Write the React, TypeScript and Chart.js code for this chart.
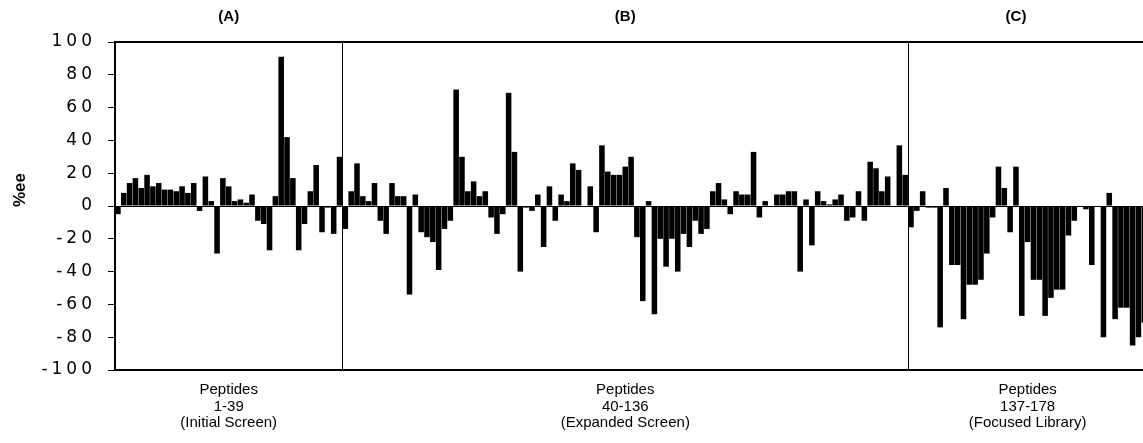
import React, { useEffect, useRef } from 'react';
import { Chart, registerables, LinearScale } from 'chart.js';

Chart.register(...registerables);

class SpacedLinearScale extends LinearScale {
  static id = 'spacedLinear';
  static defaults = LinearScale.defaults;
  drawLabels(chartArea: any) {
    const ctx = this.ctx as any;
    ctx.save();
    ctx.letterSpacing = '4px';
    super.drawLabels(chartArea);
    ctx.restore();
  }
}
Chart.register(SpacedLinearScale);

// %ee per peptide, section A: peptides 1-39 (Initial Screen)
const SECTION_A = [
  -5, 8, 14, 17, 11, 19, 12, 14, 10, 10, 9, 12, 8, 14, -3, 18, 3, -29, 17, 12,
  3, 4, 2, 7, -9, -11, -27, 6, 91, 42, 17, -27, -11, 9, 25, -16, -1, -17, 30,
];
// section B: peptides 40-136 (Expanded Screen)
const SECTION_B = [
  -14, 9, 26, 6, 3, 14, -9, -17, 14, 6, 6, -54, 7, -16, -19, -22, -39, -14, -9, 71,
  30, 9, 15, 6, 9, -7, -17, -5, 69, 33, -40, -1, -3, 7, -25, 12, -9, 7, 3, 26,
  22, 0, 12, -16, 37, 21, 19, 19, 24, 30, -19, -58, 3, -66, -20, -37, -20, -40, -17, -25,
  -9, -17, -14, 9, 14, 4, -5, 9, 7, 7, 33, -7, 3, 0, 7, 7, 9, 9, -40, 4,
  -24, 9, 3, 1, 4, 7, -9, -7, 9, -9, 27, 23, 9, 18, 0, 37, 19,
];
// section C: peptides 137-178 (Focused Library)
const SECTION_C = [
  -13, -3, 9, -1, -1, -74, 11, -36, -36, -69, -48, -48, -45, -29, -7, 24, 11, -16, 24, -67,
  -22, -45, -45, -67, -56, -51, -51, -18, -9, 0, -2, -36, 0, -80, 8, -69, -62, -62, -85, -80,
  -71, -71,
];

const SECTION_LETTERS = ['(A)', '(B)', '(C)'];
const SECTION_LETTER_AT = [19, 87, 154];
const SECTION_CAPTIONS = [
  ['Peptides', '1-39', '(Initial Screen)'],
  ['Peptides', '40-136', '(Expanded Screen)'],
  ['Peptides', '137-178', '(Focused Library)'],
];
const CAPTION_AT = [19, 87, 156];
const Y_MIN = -100;
const Y_MAX = 100;
const Y_STEP = 20;
const Y_TITLE = '%ee';

const SECTIONS = [SECTION_A, SECTION_B, SECTION_C];
const VALUES = SECTIONS.flat();
const LABELS = VALUES.map((_, i) => String(i + 1));

const FONT = '"Liberation Sans", Arial, sans-serif';

const decorPlugin = {
  id: 'decor',
  afterDatasetsDraw(chart: any) {
    const { ctx, chartArea: a, scales } = chart;
    const x = scales.x;
    ctx.save();
    ctx.strokeStyle = '#000';
    ctx.fillStyle = '#000';
    ctx.lineWidth = 1;
    let idx = 0;
    for (let s = 0; s < SECTIONS.length - 1; s++) {
      idx += SECTIONS[s].length;
      const px = (x.getPixelForValue(idx - 1) + x.getPixelForValue(idx)) / 2;
      const rx = Math.round(px) + 0.5;
      ctx.beginPath();
      ctx.moveTo(rx, a.top);
      ctx.lineTo(rx, a.bottom);
      ctx.stroke();
    }
    ctx.lineWidth = 2;
    ctx.beginPath();
    ctx.moveTo(a.left, a.top);
    ctx.lineTo(a.right, a.top);
    ctx.lineTo(a.right, a.bottom);
    ctx.stroke();

    ctx.font = 'bold 15px ' + FONT;
    ctx.textAlign = 'center';
    ctx.textBaseline = 'middle';
    SECTION_LETTERS.forEach((t, i) => {
      ctx.fillText(t, x.getPixelForValue(SECTION_LETTER_AT[i]), 17);
    });

    ctx.translate(20, 190);
    ctx.rotate(-Math.PI / 2);
    ctx.font = 'bold 17px ' + FONT;
    ctx.fillText(Y_TITLE, 0, 0);
    ctx.restore();
  },
};

export default function App() {
  const ref = useRef<HTMLCanvasElement>(null);
  useEffect(() => {
    if (!ref.current) return;
    const chart = new Chart(ref.current, {
      type: 'bar',
      data: {
        labels: LABELS,
        datasets: [
          {
            data: VALUES,
            backgroundColor: '#000',
            borderWidth: 0,
            barPercentage: 0.95,
            categoryPercentage: 1.0,
          },
        ],
      },
      options: {
        animation: false,
        responsive: true,
        maintainAspectRatio: false,
        layout: { padding: { left: 0, right: 12, top: 42, bottom: 0 } },
        plugins: { legend: { display: false }, tooltip: { enabled: false }, title: { display: false } },
        scales: {
          x: {
            type: 'category',
            afterFit: (s: any) => {
              s.height = 73;
            },
            grid: { display: false, drawTicks: false },
            border: { display: true, color: '#000', width: 2 },
            ticks: {
              autoSkip: false,
              maxRotation: 0,
              minRotation: 0,
              padding: 12,
              color: '#000',
              font: { family: FONT, size: 15, lineHeight: 1.1 },
              callback: (_v: any, i: number) => {
                const k = CAPTION_AT.indexOf(i);
                return k >= 0 ? SECTION_CAPTIONS[k] : '';
              },
            },
          },
          y: {
            type: 'spacedLinear' as any,
            min: Y_MIN,
            max: Y_MAX,
            afterFit: (s: any) => {
              s.width = 115;
            },
            grid: {
              drawOnChartArea: true,
              drawTicks: true,
              tickLength: 7,
              lineWidth: 1,
              tickColor: '#000',
              color: (c: any) => (c.tick && c.tick.value === 0 ? '#000' : 'rgba(0,0,0,0)'),
            },
            border: { display: true, color: '#000', width: 2 },
            ticks: {
              stepSize: Y_STEP,
              padding: 12,
              color: '#000',
              font: { family: '"DejaVu Sans", sans-serif', size: 17 },
            },
          },
        },
      },
      plugins: [decorPlugin],
    });
    return () => chart.destroy();
  }, []);

  return (
    <div style={{ position: 'fixed', left: 0, top: 0, width: 1143, height: 443, overflow: 'hidden', background: '#fff' }}>
      <div style={{ position: 'relative', width: 1165, height: 443 }}>
        <canvas ref={ref} />
      </div>
    </div>
  );
}
